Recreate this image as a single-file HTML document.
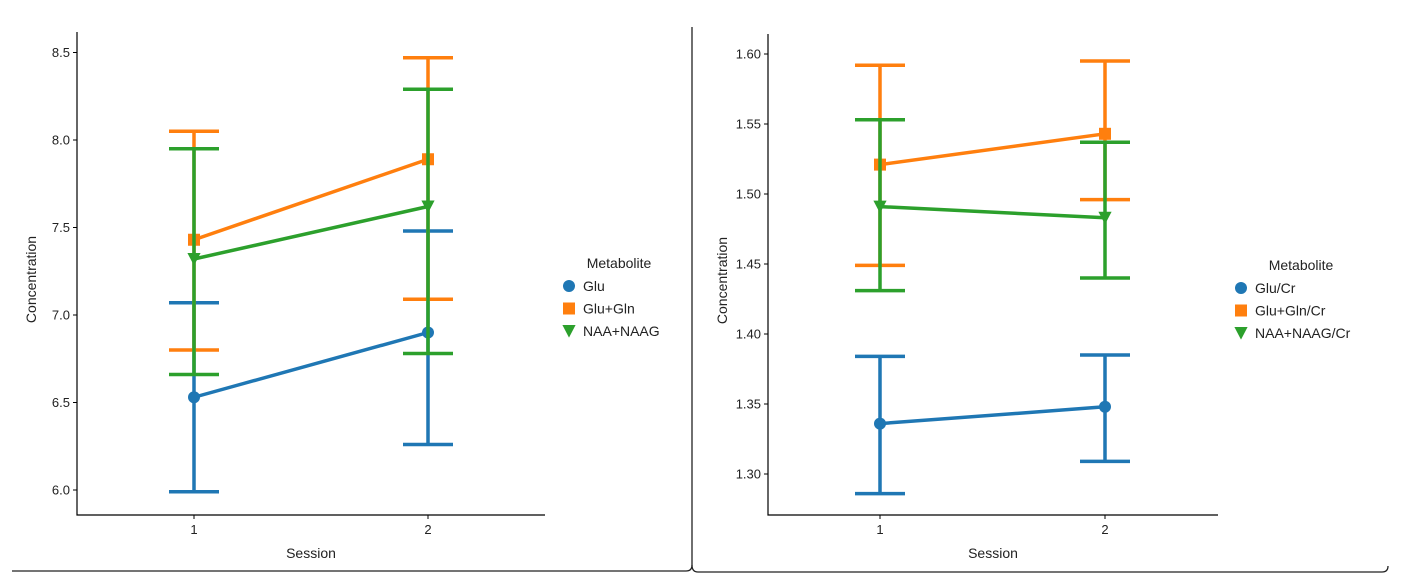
<!DOCTYPE html>
<html><head><meta charset="utf-8">
<style>
html,body{margin:0;padding:0;background:#fff;}
svg{display:block;font-family:"Liberation Sans","DejaVu Sans",sans-serif;}
</style></head>
<body>
<svg id="svg" width="1412" height="580" viewBox="0 0 1412 580" xmlns="http://www.w3.org/2000/svg">
<path d="M12 571 L686 571 Q692 571 692 565 L692 27" fill="none" stroke="#222" stroke-width="1.3"/>
<path d="M692 565 Q692 572 698 572 L1382 572 Q1388 572 1388 566" fill="none" stroke="#222" stroke-width="1.3"/>
<g id="left"></g>
<g id="right"></g>
</svg>
<script>
const sessions = ["1","2"];
const leftNames = ["Glu","Glu+Gln","NAA+NAAG"];
const leftMeans = [[6.53,6.90],[7.43,7.89],[7.32,7.62]];
const leftLow = [[5.99,6.26],[6.80,7.09],[6.66,6.78]];
const leftHigh = [[7.07,7.48],[8.05,8.47],[7.95,8.29]];
const leftTicks = ["6.0","6.5","7.0","7.5","8.0","8.5"];
const rightNames = ["Glu/Cr","Glu+Gln/Cr","NAA+NAAG/Cr"];
const rightMeans = [[1.336,1.348],[1.521,1.543],[1.491,1.483]];
const rightLow = [[1.286,1.309],[1.449,1.496],[1.431,1.440]];
const rightHigh = [[1.384,1.385],[1.592,1.595],[1.553,1.537]];
const rightTicks = ["1.30","1.35","1.40","1.45","1.50","1.55","1.60"];
const colors = ["#1f77b4","#ff7f0e","#2ca02c"];
const NS = "http://www.w3.org/2000/svg";
function mk(parent, tag, attrs, text){
  const e = document.createElementNS(NS, tag);
  for (const k in attrs) e.setAttribute(k, attrs[k]);
  if (text !== undefined) e.textContent = text;
  parent.appendChild(e);
  return e;
}
function marker(g, kind, x, y, c, s){
  if (kind===0) return mk(g,"circle",{cx:x,cy:y,r:s,fill:c});
  if (kind===1) return mk(g,"rect",{x:x-s,y:y-s,width:2*s,height:2*s,fill:c});
  return mk(g,"polygon",{points:`${x-s*1.1},${y-s} ${x+s*1.1},${y-s} ${x},${y+s*1.1}`,fill:c});
}
function draw(gid, cfg){
  const g = document.getElementById(gid);
  const y = v => cfg.y0 + (v - cfg.v0) * (cfg.y1 - cfg.y0) / (cfg.v1 - cfg.v0);
  const x = i => cfg.xs[0] + i * (cfg.xs[1] - cfg.xs[0]);
  const ax = mk(g,"path",{d:`M${cfg.ax} ${cfg.top} L${cfg.ax} ${cfg.bottom} L${cfg.right} ${cfg.bottom}`,fill:"none",stroke:"#000","stroke-width":1.2});
  
  
  cfg.ticks.forEach(t=>{
    const yy = y(parseFloat(t));
    const tl = mk(g,"line",{x1:cfg.ax-4,x2:cfg.ax,y1:yy,y2:yy,stroke:"#000","stroke-width":1});
    
    
    const tx = mk(g,"text",{x:cfg.ax-7,y:yy+4.5,"text-anchor":"end","font-size":13,fill:"#222"},t);
    
    
  });
  sessions.forEach((s,i)=>{
    const tl = mk(g,"line",{x1:x(i),x2:x(i),y1:cfg.bottom,y2:cfg.bottom+4,stroke:"#000","stroke-width":1});
    
    
    const tx = mk(g,"text",{x:x(i),y:cfg.bottom+19,"text-anchor":"middle","font-size":13,fill:"#222"},s);
    
    
  });
  const xt = mk(g,"text",{x:(cfg.ax+cfg.right)/2,y:cfg.bottom+43,"text-anchor":"middle","font-size":14,fill:"#222"},"Session");
  
  
  const ym = (cfg.top+cfg.bottom)/2+6;
  const yt = mk(g,"text",{x:cfg.ax-41,y:ym,"text-anchor":"middle","font-size":14,fill:"#222",transform:`rotate(-90 ${cfg.ax-41} ${ym})`},"Concentration");
  
  
  cfg.means.forEach((m,si)=>{
    const c = colors[si];
    const sg = mk(g,"g",{});
    
    
    m.forEach((v,i)=>{
      const eb = mk(sg,"path",{d:`M${x(i)} ${y(cfg.low[si][i])} L${x(i)} ${y(cfg.high[si][i])} M${x(i)-25} ${y(cfg.low[si][i])} L${x(i)+25} ${y(cfg.low[si][i])} M${x(i)-25} ${y(cfg.high[si][i])} L${x(i)+25} ${y(cfg.high[si][i])}`,stroke:c,"stroke-width":3.5,fill:"none"});
      
      
    });
    const ln = mk(sg,"polyline",{points:m.map((v,i)=>x(i)+","+y(v)).join(" "),stroke:c,"stroke-width":3.5,fill:"none"});
    
    
    m.forEach((v,i)=>{
      const pt = marker(sg, si, x(i), y(v), c, 6);
      
      
    });
  });
  const lg = mk(g,"g",{});
  
  
  const lt = mk(lg,"text",{x:cfg.lx+cfg.tOff,y:cfg.ly+5,"text-anchor":"middle","font-size":14,fill:"#222"},"Metabolite");
  
  
  cfg.names.forEach((n,si)=>{
    const yy = cfg.ly + 23 + si*22.5;
    const e = mk(lg,"g",{});
    
    
    marker(e, si, cfg.lx, yy, colors[si], 6);
    mk(e,"text",{x:cfg.lx+14,y:yy+5,"font-size":14,fill:"#222"},n);
  });
}
draw("left",{y0:490,y1:52.5,v0:6.0,v1:8.5,xs:[194,428],ax:77,top:32,bottom:515,right:545,ticks:leftTicks,means:leftMeans,low:leftLow,high:leftHigh,names:leftNames,lx:569,ly:263,tOff:50});
draw("right",{y0:474,y1:54,v0:1.30,v1:1.60,xs:[880,1105],ax:768,top:34,bottom:515,right:1218,ticks:rightTicks,means:rightMeans,low:rightLow,high:rightHigh,names:rightNames,lx:1241,ly:265,tOff:60});
</script>
</body></html>
